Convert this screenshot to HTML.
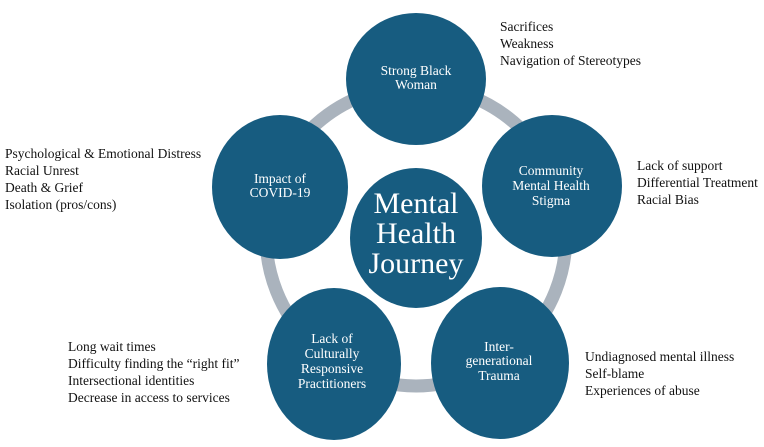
<!DOCTYPE html>
<html><head><style>
body{margin:0;background:#fff;width:764px;height:442px;overflow:hidden}
</style></head><body>
<svg width="764" height="442" viewBox="0 0 764 442" font-family="'Liberation Serif', 'Times New Roman', serif" style="font-family:'Liberation Serif','Times New Roman',serif">
<circle cx="416" cy="236" r="150" fill="none" stroke="#aab3bd" stroke-width="13"/>
<g fill="#175c80">
<ellipse cx="416" cy="79" rx="70" ry="66"/>
<ellipse cx="552" cy="186" rx="70" ry="71"/>
<ellipse cx="500" cy="363" rx="69" ry="76"/>
<ellipse cx="334" cy="364" rx="67" ry="76"/>
<ellipse cx="280" cy="187" rx="68" ry="72"/>
<ellipse cx="416" cy="238" rx="66" ry="70"/>
</g>
<g font-size="13.5" fill="#fff" text-anchor="middle">
<text x="416" y="75">Strong Black</text>
<text x="416" y="89">Woman</text>
<text x="551" y="175">Community</text>
<text x="551" y="190">Mental Health</text>
<text x="551" y="205">Stigma</text>
<text x="499" y="351">Inter-</text>
<text x="499" y="365">generational</text>
<text x="499" y="380">Trauma</text>
<text x="332" y="343">Lack of</text>
<text x="332" y="358">Culturally</text>
<text x="332" y="373">Responsive</text>
<text x="332" y="388">Practitioners</text>
<text x="280" y="183">Impact of</text>
<text x="280" y="197">COVID-19</text>
</g>
<g font-size="30" fill="#fff" text-anchor="middle">
<text x="416" y="213">Mental</text>
<text x="416" y="243">Health</text>
<text x="416" y="273">Journey</text>
</g>
<g font-size="13.5" fill="#111">
<text x="500" y="31">Sacrifices</text>
<text x="500" y="48">Weakness</text>
<text x="500" y="65">Navigation of Stereotypes</text>
<text x="637" y="170">Lack of support</text>
<text x="637" y="187">Differential Treatment</text>
<text x="637" y="204">Racial Bias</text>
<text x="5" y="158">Psychological &amp; Emotional Distress</text>
<text x="5" y="175">Racial Unrest</text>
<text x="5" y="192">Death &amp; Grief</text>
<text x="5" y="209">Isolation (pros/cons)</text>
<text x="68" y="351">Long wait times</text>
<text x="68" y="368">Difficulty finding the “right fit”</text>
<text x="68" y="385">Intersectional identities</text>
<text x="68" y="402">Decrease in access to services</text>
<text x="585" y="361">Undiagnosed mental illness</text>
<text x="585" y="378">Self-blame</text>
<text x="585" y="395">Experiences of abuse</text>
</g>
</svg>
</body></html>
